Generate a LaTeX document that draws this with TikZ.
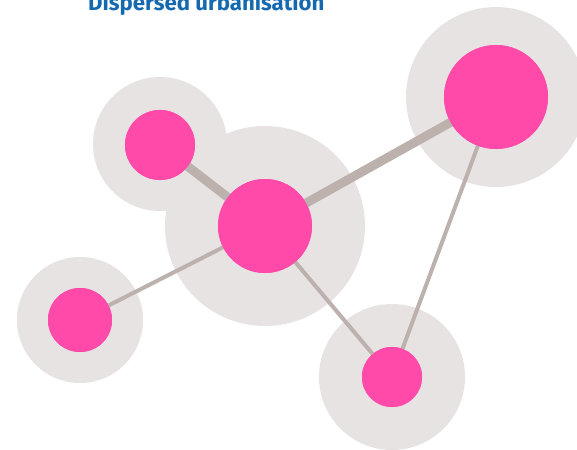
\documentclass[tikz,border=0pt]{standalone}
\usepackage{fontspec}
\setmainfont{Fira Sans}
\definecolor{halo}{HTML}{E8E3E3}
\definecolor{hub}{HTML}{FF4AAA}
\definecolor{link}{HTML}{BCB1AD}
\definecolor{titleblue}{HTML}{1569B0}
\begin{document}
\begin{tikzpicture}[x=1pt,y=-1pt,
  halostyle/.style={fill=halo,draw=none},
  hubstyle/.style={circle,fill=hub,draw=none,inner sep=0pt},
  thick link/.style={draw=link,line width=9pt},
  thin link/.style={draw=link,line width=4pt}]
\useasboundingbox (0,0) rectangle (577,449);
\begin{scope}
\clip (0,0) rectangle (577,449);
% halos
\fill[halostyle] (160,144) circle (67);
\fill[halostyle] (265,226) circle (100);
\fill[halostyle] (496,97) circle (90);
\fill[halostyle] (80,320) circle (63);
\fill[halostyle] (392,377) circle (73);
% hub positions
\node[hubstyle,minimum size=94pt] (c) at (265,226) {};
\node[hubstyle,minimum size=70pt] (tl) at (160,145) {};
\node[hubstyle,minimum size=104pt] (tr) at (496,97) {};
\node[hubstyle,minimum size=64pt] (l) at (80,320) {};
\node[hubstyle,minimum size=60pt] (b) at (392,377) {};
% links
\draw[thick link] (c.center) -- (tl.center);
\draw[thick link] (c.center) -- (tr.center);
\draw[thin link] (c.center) -- (l.center);
\draw[thin link] (c.center) -- (b.center);
\draw[thin link] (tr.center) -- (b.center);
% hubs on top
\node[hubstyle,minimum size=94pt] at (c) {};
\node[hubstyle,minimum size=70pt] at (tl) {};
\node[hubstyle,minimum size=104pt] at (tr) {};
\node[hubstyle,minimum size=64pt] at (l) {};
\node[hubstyle,minimum size=60pt] at (b) {};
\node[anchor=base west,inner sep=0pt,text=titleblue,font=\fontsize{22.2}{26}\selectfont\bfseries] (title) at (88,11) {Dispersed urbanisation};
\end{scope}
\end{tikzpicture}
\end{document}
